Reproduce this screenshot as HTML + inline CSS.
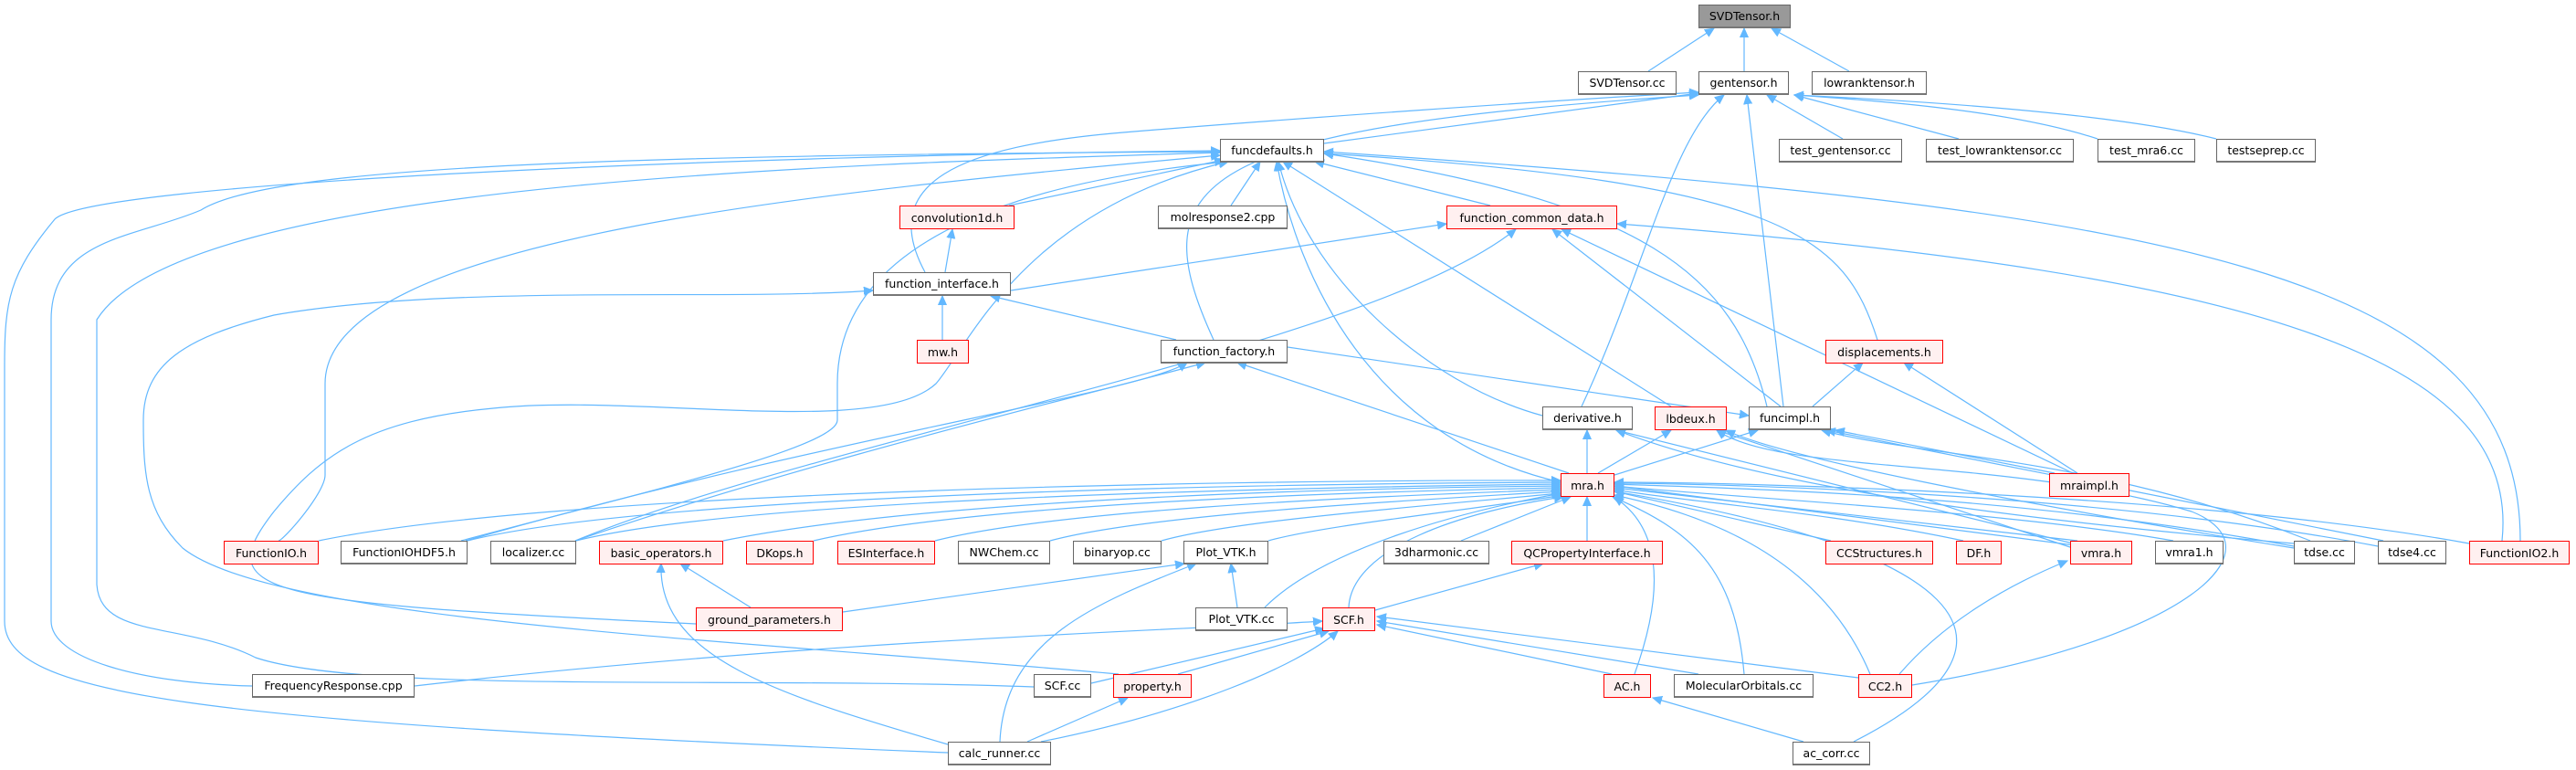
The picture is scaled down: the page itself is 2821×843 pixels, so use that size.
<!DOCTYPE html>
<html><head><meta charset="utf-8"><style>
body{margin:0;width:2821px;height:843px;background:#fff;position:relative;overflow:hidden;font-family:"DejaVu Sans","Liberation Sans",sans-serif}
.n{position:absolute;box-sizing:border-box;border:1px solid #666;border-bottom:2px solid #777;background:#fff;font-size:12.5px;color:#000;display:flex;align-items:center;justify-content:center;white-space:nowrap;height:26px}
.r{border:1.5px solid #f00;background:#fff0f0}
svg{position:absolute;left:0;top:0}
path{fill:none;stroke:#63b8ff;stroke-width:1.2}
</style></head><body>
<svg width="2821" height="843">
<defs><marker id="a" markerWidth="12" markerHeight="12" refX="10" refY="5" orient="auto" markerUnits="userSpaceOnUse"><path d="M0,0.5 L10,5 L0,9.5z" style="fill:#63b8ff;stroke:#63b8ff;stroke-width:1"/></marker></defs>
<g marker-end="url(#a)">
<path d="M1805 78 L1877 31"/><path d="M1910 78 L1910 31"/><path d="M2025 78 L1940 31"/>
<path d="M2018 152 L1935 104"/><path d="M2145 152 L1965 104"/>
<path d="M2297 152 C2200 120 2050 110 1965 104"/><path d="M2427 152 C2300 120 2050 108 1965 104"/>
<path d="M1450 157 L1860 102"/>
<path d="M1013 298 C960 200 1050 160 1230 145 S1700 110 1860 101"/>
<path d="M1329 372 C1250 200 1300 140 1860 104"/>
<path d="M1732 445 C1800 300 1830 150 1888 104"/>
<path d="M1953 445 L1913 104"/>
<path d="M1105 225 L1340 175"/><path d="M1348 225 L1380 177"/><path d="M1632 225 L1440 177"/>
<path d="M2056 372 C2020 260 1960 200 1450 168"/>
<path d="M1689 455 C1560 420 1430 300 1400 177"/>
<path d="M1709 528 C1500 480 1420 300 1398 177"/>
<path d="M1830 445 L1405 177"/>
<path d="M1935 445 C1900 300 1800 220 1450 168"/>
<path d="M2760 592 C2760 300 2400 230 1450 166"/>
<path d="M1038 824 C200 790 5 760 5 680 L5 400 C5 330 10 300 60 240 C100 200 800 170 1336 165"/>
<path d="M276 751 C150 748 56 720 56 680 L56 350 C56 260 150 260 220 230 C300 180 700 170 1336 166"/>
<path d="M1132 752 C800 740 400 760 280 720 C200 680 110 700 106 640 L106 350 C200 200 900 180 1336 167"/>
<path d="M305 592 C310 592 356 540 356 520 L356 420 C356 260 900 210 1336 170"/>
<path d="M505 592 C700 540 917 490 917 460 L917 420 C917 270 1100 200 1345 177"/>
<path d="M762 683 C280 660 230 650 300 560 C350 500 400 460 540 447 C700 430 960 480 1025 420 C1060 380 1120 230 1345 177"/>
<path d="M1035 298 L1043 251"/><path d="M1032 372 L1032 324"/><path d="M1288 372 L1085 324"/>
<path d="M1107 318 L1584 245"/>
<path d="M1225 738 C800 700 300 680 200 600 C160 560 157 520 157 460 C157 400 200 370 300 345 C500 310 800 330 956 318"/>
<path d="M1410 380 L1915 455"/><path d="M1718 518 L1355 397"/>
<path d="M630 592 C900 500 1200 430 1320 397"/><path d="M510 592 C900 480 1250 430 1300 397"/>
<path d="M630 592 C900 480 1500 380 1660 251"/>
<path d="M1950 445 L1700 251"/><path d="M2270 518 L1710 251"/>
<path d="M2740 592 C2760 400 2500 300 1771 245"/>
<path d="M2275 518 L2085 397"/><path d="M1985 445 L2040 397"/>
<path d="M1768 520 L1925 471"/><path d="M2250 518 L2010 471"/>
<path d="M2530 592 C2300 500 2100 500 1995 471"/><path d="M2610 592 L2000 471"/>
<path d="M1750 518 L1830 471"/><path d="M2270 600 L1880 471"/>
<path d="M2512 600 C2200 550 1950 500 1890 471"/>
<path d="M1738 518 L1738 471"/><path d="M2270 595 L1770 471"/>
<path d="M2512 595 C2100 560 1900 520 1770 471"/>
<path d="M1738 592 L1738 544"/><path d="M1600 592 L1720 544"/>
<path d="M2005 592 L1768 538"/>
<path d="M2150 592 C2000 560 1850 550 1768 536"/>
<path d="M2275 592 L1768 534"/><path d="M2280 598 L1768 532"/>
<path d="M2380 592 C2200 560 1900 545 1768 532"/>
<path d="M2512 598 C2200 540 1900 535 1768 530"/>
<path d="M2604 598 C2300 540 1900 530 1768 529"/>
<path d="M2704 595 C2400 540 1900 528 1768 528"/>
<path d="M1477 665 C1480 600 1600 560 1712 544"/>
<path d="M1790 738 C1840 600 1790 560 1768 544"/>
<path d="M1910 738 C1900 620 1850 580 1766 544"/>
<path d="M2048 738 C1990 600 1850 560 1768 542"/>
<path d="M2030 812 C2250 700 2140 600 1768 538"/>
<path d="M1385 665 C1450 600 1600 560 1710 540"/>
<path d="M349 592 C600 540 1300 525 1709 526"/>
<path d="M512 592 C700 545 1300 530 1709 528"/>
<path d="M631 592 C800 550 1300 535 1709 530"/>
<path d="M792 592 C1000 550 1400 535 1709 532"/>
<path d="M891 592 C1050 555 1400 540 1709 534"/>
<path d="M1024 592 C1150 560 1450 545 1709 536"/>
<path d="M1150 592 C1250 565 1500 550 1709 538"/>
<path d="M1272 592 C1350 570 1550 555 1709 540"/>
<path d="M1389 592 C1450 575 1600 560 1712 542"/>
<path d="M1506 668 L1690 617"/>
<path d="M1765 738 L1508 684"/><path d="M1860 738 L1508 680"/><path d="M2035 742 L1508 675"/>
<path d="M454 751 C900 700 1300 690 1448 680"/>
<path d="M1195 748 L1450 688"/><path d="M1290 738 L1455 691"/>
<path d="M1140 812 C1300 780 1420 730 1465 691"/>
<path d="M2080 738 C2130 680 2200 640 2264 614"/>
<path d="M2094 750 C2400 700 2500 600 2400 560 C2200 500 1950 520 1880 471"/>
<path d="M1975 812 L1810 764"/><path d="M1125 812 L1235 764"/>
<path d="M822 665 L745 617"/><path d="M1038 815 C850 760 720 720 724 617"/>
<path d="M923 670 L1297 617"/><path d="M1355 665 L1348 617"/>
<path d="M1095 812 C1100 700 1200 660 1310 617"/>
</g></svg>
<div class="n" style="left:1860px;top:5px;width:101px;background:#999">SVDTensor.h</div>
<div class="n" style="left:1728px;top:78px;width:108px">SVDTensor.cc</div>
<div class="n" style="left:1860px;top:78px;width:99px">gentensor.h</div>
<div class="n" style="left:1984px;top:78px;width:126px">lowranktensor.h</div>
<div class="n" style="left:1948px;top:152px;width:135px">test_gentensor.cc</div>
<div class="n" style="left:2109px;top:152px;width:162px">test_lowranktensor.cc</div>
<div class="n" style="left:2297px;top:152px;width:107px">test_mra6.cc</div>
<div class="n" style="left:2427px;top:152px;width:109px">testseprep.cc</div>
<div class="n" style="left:1336px;top:152px;width:114px">funcdefaults.h</div>
<div class="n r" style="left:985px;top:225px;width:126px">convolution1d.h</div>
<div class="n" style="left:1268px;top:225px;width:142px">molresponse2.cpp</div>
<div class="n r" style="left:1584px;top:225px;width:187px">function_common_data.h</div>
<div class="n" style="left:956px;top:298px;width:151px">function_interface.h</div>
<div class="n r" style="left:1004px;top:372px;width:57px">mw.h</div>
<div class="n" style="left:1271px;top:372px;width:139px">function_factory.h</div>
<div class="n r" style="left:1999px;top:372px;width:129px">displacements.h</div>
<div class="n" style="left:1689px;top:445px;width:99px">derivative.h</div>
<div class="n r" style="left:1812px;top:445px;width:79px">lbdeux.h</div>
<div class="n" style="left:1915px;top:445px;width:90px">funcimpl.h</div>
<div class="n r" style="left:1709px;top:518px;width:59px">mra.h</div>
<div class="n r" style="left:2244px;top:518px;width:88px">mraimpl.h</div>
<div class="n r" style="left:245px;top:592px;width:104px">FunctionIO.h</div>
<div class="n" style="left:373px;top:592px;width:139px">FunctionIOHDF5.h</div>
<div class="n" style="left:537px;top:592px;width:94px">localizer.cc</div>
<div class="n r" style="left:656px;top:592px;width:136px">basic_operators.h</div>
<div class="n r" style="left:817px;top:592px;width:74px">DKops.h</div>
<div class="n r" style="left:917px;top:592px;width:107px">ESInterface.h</div>
<div class="n" style="left:1049px;top:592px;width:101px">NWChem.cc</div>
<div class="n" style="left:1175px;top:592px;width:97px">binaryop.cc</div>
<div class="n" style="left:1296px;top:592px;width:93px">Plot_VTK.h</div>
<div class="n" style="left:1515px;top:592px;width:116px">3dharmonic.cc</div>
<div class="n r" style="left:1655px;top:592px;width:166px">QCPropertyInterface.h</div>
<div class="n r" style="left:1999px;top:592px;width:118px">CCStructures.h</div>
<div class="n r" style="left:2142px;top:592px;width:50px">DF.h</div>
<div class="n r" style="left:2267px;top:592px;width:68px">vmra.h</div>
<div class="n" style="left:2360px;top:592px;width:75px">vmra1.h</div>
<div class="n" style="left:2512px;top:592px;width:67px">tdse.cc</div>
<div class="n" style="left:2604px;top:592px;width:75px">tdse4.cc</div>
<div class="n r" style="left:2704px;top:592px;width:110px">FunctionIO2.h</div>
<div class="n r" style="left:762px;top:665px;width:161px">ground_parameters.h</div>
<div class="n" style="left:1309px;top:665px;width:101px">Plot_VTK.cc</div>
<div class="n r" style="left:1448px;top:665px;width:58px">SCF.h</div>
<div class="n" style="left:276px;top:738px;width:178px">FrequencyResponse.cpp</div>
<div class="n" style="left:1132px;top:738px;width:63px">SCF.cc</div>
<div class="n r" style="left:1219px;top:738px;width:86px">property.h</div>
<div class="n r" style="left:1756px;top:738px;width:52px">AC.h</div>
<div class="n" style="left:1833px;top:738px;width:153px">MolecularOrbitals.cc</div>
<div class="n r" style="left:2035px;top:738px;width:59px">CC2.h</div>
<div class="n" style="left:1038px;top:812px;width:113px">calc_runner.cc</div>
<div class="n" style="left:1963px;top:812px;width:85px">ac_corr.cc</div>
</body></html>
